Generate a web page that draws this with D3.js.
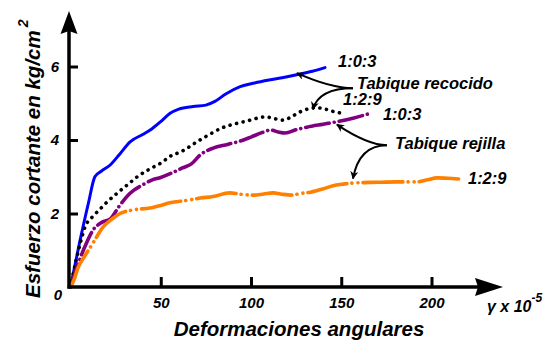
<!DOCTYPE html>
<html>
<head>
<meta charset="utf-8">
<script src="https://cdn.jsdelivr.net/npm/d3@7"></script>
<style>
  html, body { margin: 0; padding: 0; background: #fff; }
  svg { display: block; font-family: "Liberation Sans", Arial, sans-serif; }
  text { font-weight: bold; font-style: italic; fill: #000; }
</style>
</head>
<body>
<svg id="chart" width="545" height="343"></svg>
<script>
// Shear stress (kg/cm²) vs. angular strain (γ × 10⁻⁵) for four wall types
const xTicks = [50, 100, 150, 200];
const yTicks = [0, 2, 4, 6];

// Tabique recocido 1:0:3
const recocido103 = [[0,0],[5,1.2],[10,2.3],[13.5,3.0],[17,3.15],[22,3.32],[27,3.6],[33,3.95],[40,4.15],[45,4.3],[50,4.5],[55,4.72],[60,4.84],[68,4.91],[75,4.95],[80,5.05],[86,5.25],[94,5.45],[102,5.55],[110,5.63],[118,5.7],[126,5.78],[134,5.87],[141,5.97]];
// Tabique recocido 1:2:9
const recocido129 = [[0,0],[3,0.7],[6,1.3],[8,1.63],[12,1.9],[16,2.1],[20,2.3],[26,2.56],[32,2.8],[37,3.0],[45,3.24],[50,3.37],[55,3.55],[62,3.7],[70,3.95],[77,4.15],[84,4.33],[92,4.45],[98,4.52],[104,4.6],[108,4.63],[113,4.58],[118,4.54],[122,4.62],[127,4.76],[132,4.85],[136,4.88],[142,4.83],[146,4.77],[150,4.73]];
// Tabique rejilla 1:0:3
const rejilla103 = [[0,0],[4,0.6],[8,1.1],[12.5,1.55],[17,1.75],[22,1.85],[27,2.2],[33,2.55],[40,2.78],[45,2.91],[50,2.98],[56,3.1],[62,3.24],[67,3.35],[72,3.6],[79,3.78],[87,3.88],[94,3.97],[100,4.08],[106,4.2],[111,4.27],[115,4.22],[119,4.19],[125,4.28],[131,4.35],[140,4.43],[148,4.5],[157,4.6],[167,4.74]];
// Tabique rejilla 1:2:9
const rejilla129 = [[0,0],[2,0.2],[4,0.5],[8,0.85],[12.5,1.2],[18,1.63],[23,1.85],[27.5,2.0],[35,2.1],[44,2.15],[50,2.22],[55,2.29],[65,2.36],[72,2.42],[79,2.46],[88,2.56],[95,2.52],[101,2.5],[107,2.53],[112,2.56],[118,2.52],[122,2.5],[128,2.55],[133,2.58],[140,2.67],[145,2.75],[151,2.8],[157,2.83],[170,2.85],[181,2.86],[192,2.86],[198,2.92],[203,2.97],[209,2.96],[215,2.94]];

// Mix labels at the line ends: [x, y, text]
const mixLabels = [[148.2, 5.99, "1:0:3"], [151, 4.95, "1:2:9"], [173.1, 4.54, "1:0:3"], [220.2, 2.8, "1:2:9"]];
// Group labels with the points their arrows start from and point to
const groups = [
  { name: "Tabique recocido", at: [158.7, 5.39], from: [156.5, 5.41], to: [[125.5, 5.82], [134.3, 4.84]] },
  { name: "Tabique rejilla",  at: [179.8, 3.76], from: [175.3, 3.86], to: [[147.6, 4.42], [156.5, 2.95]] }
];

const svg = d3.select("#chart");
const x = d3.scaleLinear().domain([0, 200]).range([70.5, 431.5]);
const y = d3.scaleLinear().domain([0, 6]).range([287, 66.5]);

const defs = svg.append("defs");
defs.append("marker")
  .attr("id", "tip").attr("viewBox", "0 0 10 10").attr("refX", 9).attr("refY", 5)
  .attr("markerWidth", 8).attr("markerHeight", 8).attr("markerUnits", "userSpaceOnUse")
  .attr("orient", "auto")
  .append("path").attr("d", "M0,0 L10,5 L0,10 L3,5 Z").attr("fill", "#000");

// Series
const line = d3.line().x(d => x(d[0])).y(d => y(d[1])).curve(d3.curveMonotoneX);
const series = [
  { data: recocido103, color: "#0000ff", width: 3, dash: null },
  { data: recocido129, color: "#000000", width: 3.6, dash: "0.1 6.6" },
  { data: rejilla103, color: "#800080", width: 3.6, dash: "24 5 0.1 5" },
  { data: rejilla129, color: "#ff8000", width: 3.6, dash: "40 5 0.1 6 0.1 5" }
];
svg.append("g").selectAll("path").data(series).join("path")
  .attr("d", d => line(d.data))
  .attr("fill", "none")
  .attr("stroke", d => d.color)
  .attr("stroke-width", d => d.width)
  .attr("stroke-dasharray", d => d.dash)
  .attr("stroke-linecap", "round")
  .attr("stroke-linejoin", "round");

// Axes
const xAxis = d3.axisBottom(x).tickValues(xTicks).tickSize(-10).tickPadding(8).tickFormat(d3.format("d"));
const gx = svg.append("g").attr("transform", `translate(0,${y(0)})`).call(xAxis);
gx.select(".domain").remove();
gx.selectAll(".tick line").attr("stroke", "#000").attr("stroke-width", 3);
gx.selectAll(".tick text").attr("font-size", 15).attr("dy", "0.85em");

const yAxis = d3.axisLeft(y).tickValues(yTicks).tickSize(-9).tickPadding(10).tickFormat(d3.format("d"));
const gy = svg.append("g").attr("transform", `translate(${x(0) - 1.5},0)`).call(yAxis);
gy.select(".domain").remove();
gy.selectAll(".tick line").attr("stroke", "#000").attr("stroke-width", 3)
  .filter(d => d === 0).remove();
gy.selectAll(".tick text").attr("font-size", 15)
  .filter(d => d === 0).attr("dy", "0.8em").attr("x", -7);

// Axis lines with arrowheads
const x0 = x(0) - 1.5, y0 = y(0);
svg.append("line").attr("x1", x0).attr("y1", y0 + 1.5).attr("x2", x0).attr("y2", 30)
  .attr("stroke", "#000").attr("stroke-width", 3.5);
svg.append("path").attr("d", `M${x0},11 L${x0 + 8.5},34 L${x0},31 L${x0 - 8.5},34 Z`).attr("fill", "#000");
svg.append("line").attr("x1", x0 - 1.5).attr("y1", y0).attr("x2", 480).attr("y2", y0)
  .attr("stroke", "#000").attr("stroke-width", 3.5);
svg.append("path").attr("d", `M503,${y0} L475,${y0 - 9} L478,${y0} L475,${y0 + 9} Z`).attr("fill", "#000");

// Axis titles
svg.append("text").attr("x", 299).attr("y", 336).attr("text-anchor", "middle")
  .attr("font-size", 20.5).text("Deformaciones angulares");
const yt = svg.append("text").attr("transform", "translate(40,298) rotate(-90)")
  .attr("font-size", 20.5);
yt.append("tspan").text("Esfuerzo cortante en kg/cm");
yt.append("tspan").attr("dy", -12).attr("dx", 3).attr("font-size", 14).text("2");

const ut = svg.append("text").attr("x", 487).attr("y", 312).attr("font-size", 16);
ut.append("tspan").text("γ x 10");
ut.append("tspan").attr("dy", -10).attr("font-size", 12).text("-5");

// Mix labels
svg.append("g").selectAll("text").data(mixLabels).join("text")
  .attr("x", d => x(d[0])).attr("y", d => y(d[1]))
  .attr("font-size", 16.5).text(d => d[2]);

// Group labels and curved arrows
svg.append("g").selectAll("text").data(groups).join("text")
  .attr("x", d => x(d.at[0])).attr("y", d => y(d.at[1]))
  .attr("font-size", 16.5).text(d => d.name);

const arrows = groups.flatMap(g => g.to.map((t, i) => ({ from: g.from, to: t, up: i === 0 })));
svg.append("g").selectAll("path").data(arrows).join("path")
  .attr("d", d => {
    const jx = x(d.from[0]), jy = y(d.from[1]);
    const tx = x(d.to[0]), ty = y(d.to[1]);
    const cx = d.up ? (jx + tx) / 2 + 6 : tx + 6;
    return `M${jx},${jy} Q${cx},${jy} ${tx},${ty}`;
  })
  .attr("fill", "none").attr("stroke", "#000").attr("stroke-width", 2)
  .attr("marker-end", "url(#tip)");
</script>
</body>
</html>
